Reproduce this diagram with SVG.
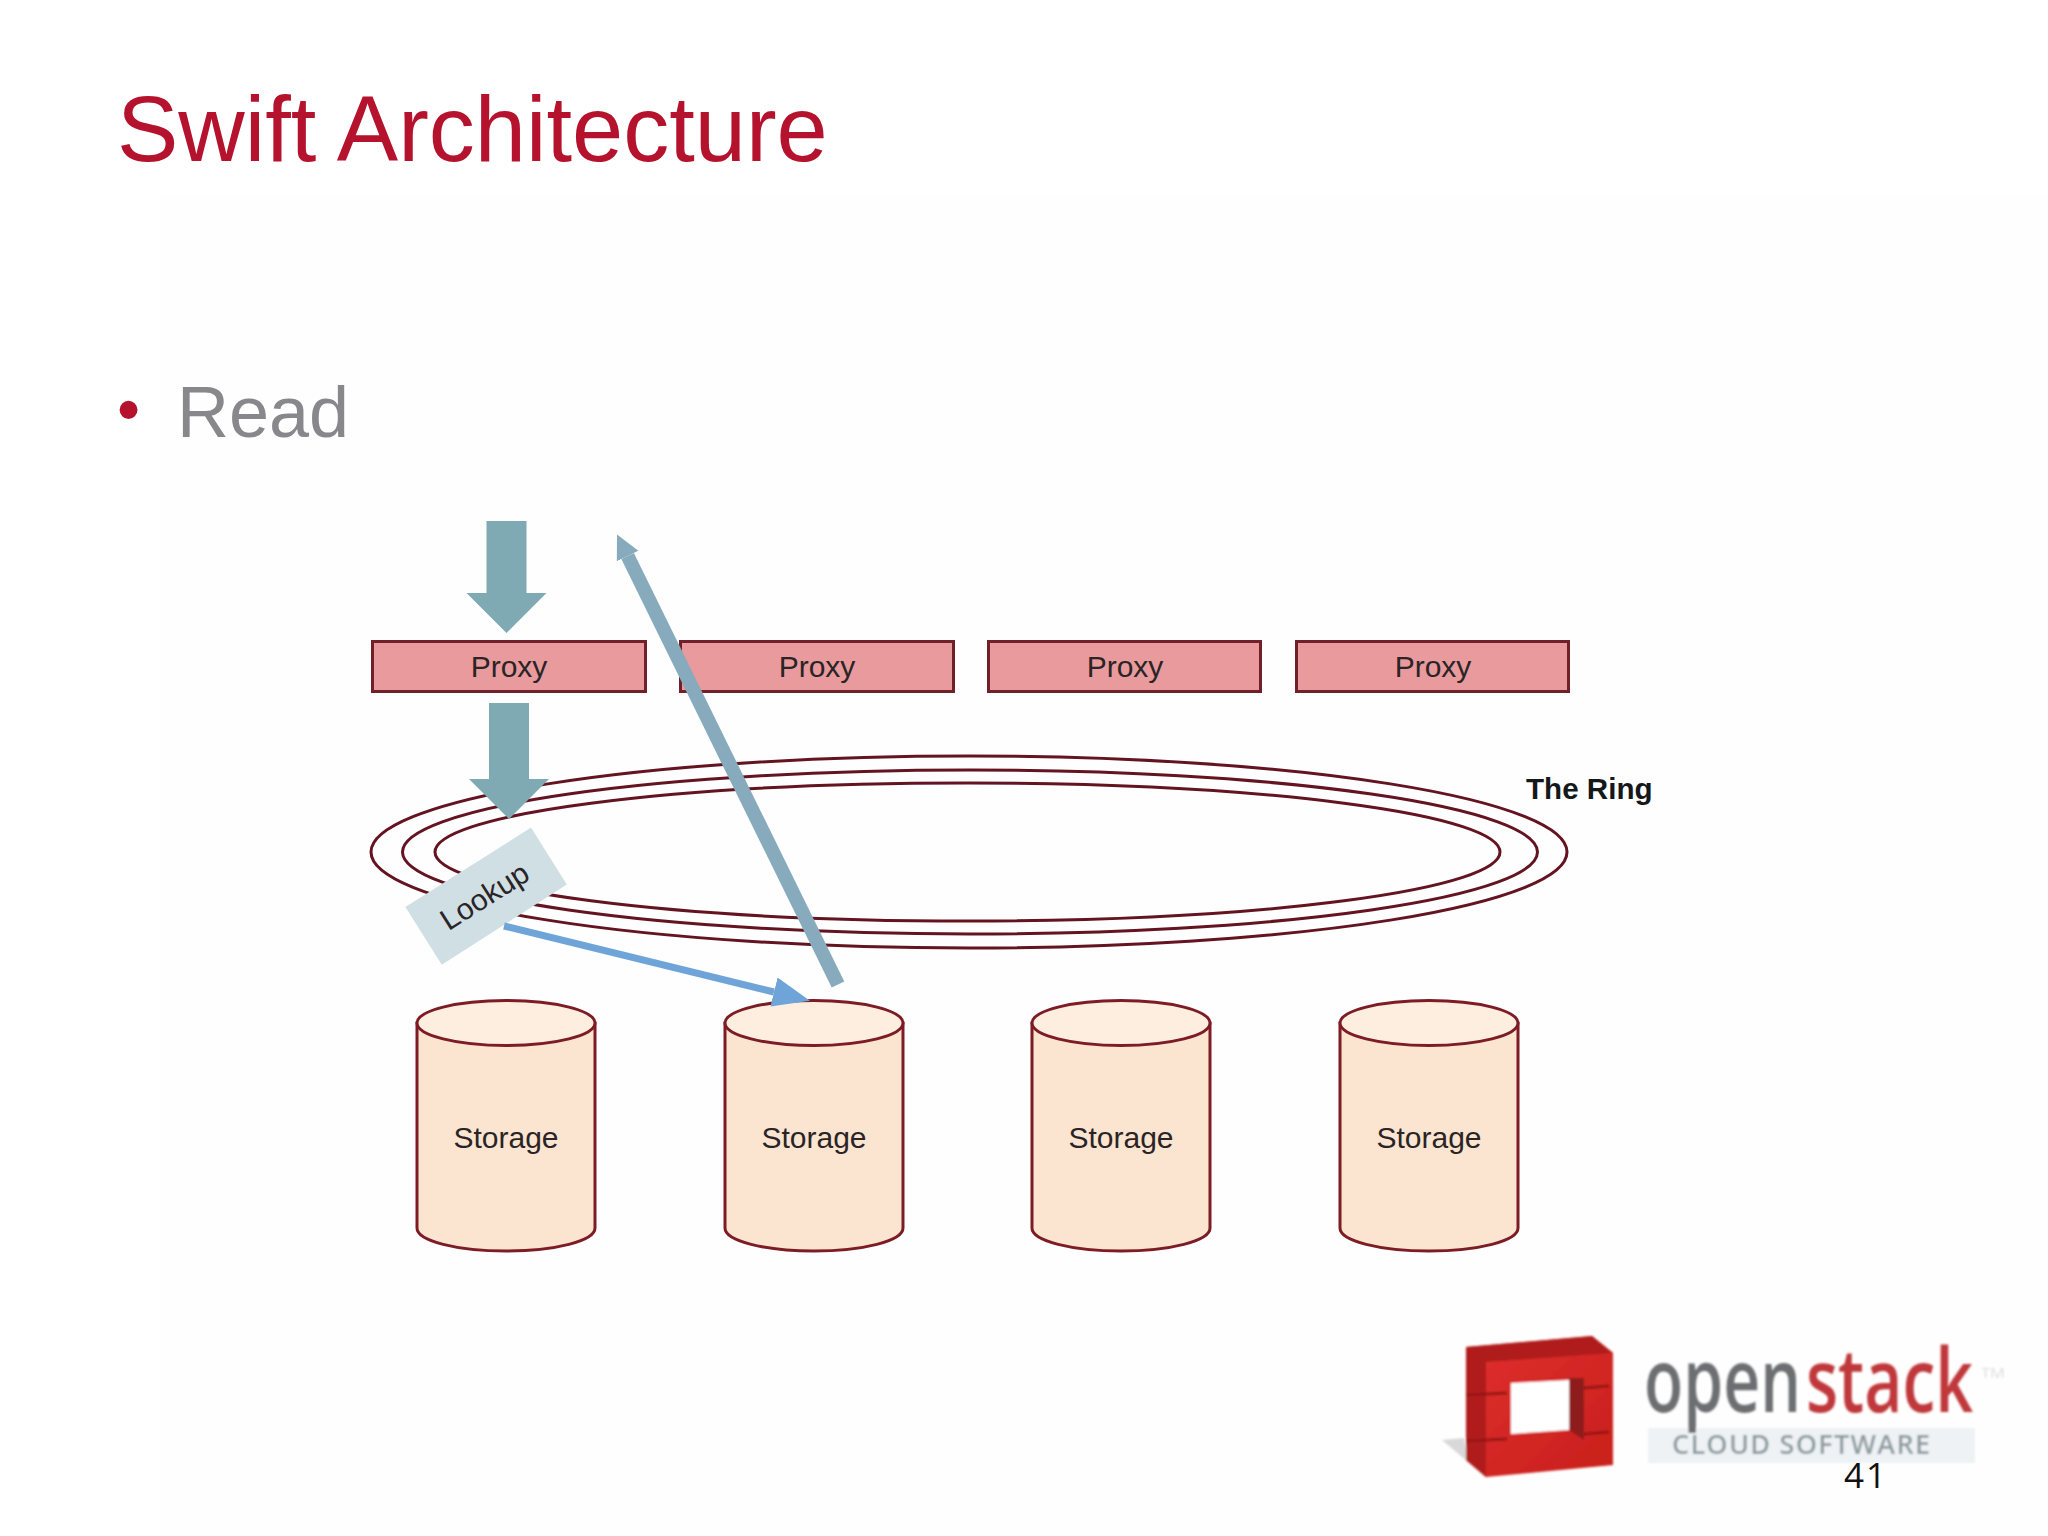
<svg xmlns="http://www.w3.org/2000/svg" width="2048" height="1536" viewBox="0 0 2048 1536">
<style>
text{font-family:"Liberation Sans",Arial,sans-serif}
.proxy{fill:#e89a9c;stroke:#702028;stroke-width:3}
.lbl{font-size:30px;fill:#2a2426;text-anchor:middle}
.cyl{fill:#fbe5d0;stroke:#7e1c26;stroke-width:3}
.cyltop{fill:#fdeee0;stroke:#7e1c26;stroke-width:3}
.ring{fill:none;stroke:#641420;stroke-width:3}
.logo{font-family:"Open Sans","Liberation Sans",sans-serif}
</style>
<defs>
<marker id="block" markerUnits="userSpaceOnUse" markerWidth="42" markerHeight="84" viewBox="0 -41 42 82" refX="0" refY="0" orient="auto"><path d="M0,-40 L40,0 L0,40 Z" fill="#7fa9b3"/></marker>
<marker id="ret" markerUnits="userSpaceOnUse" markerWidth="26" markerHeight="30" viewBox="0 -15 26 30" refX="0" refY="0" orient="auto"><path d="M0,-12 L24,0 L0,12 Z" fill="#87abbd"/></marker>
<marker id="look" markerUnits="userSpaceOnUse" markerWidth="40" markerHeight="32" viewBox="0 -16 40 32" refX="0" refY="0" orient="auto"><path d="M0,-15 L37,0 L0,15 Z" fill="#6fa4d8"/></marker>
<linearGradient id="cube" x1="0" y1="0" x2="1" y2="1"><stop offset="0" stop-color="#e0302e"/><stop offset="1" stop-color="#c81f1c"/></linearGradient>
<filter id="soft" x="-5%" y="-5%" width="110%" height="110%"><feGaussianBlur stdDeviation="0.8"/></filter>
</defs>
<rect width="2048" height="1536" fill="#ffffff"/>
<rect x="160" y="195" width="1888" height="1341" fill="#fefefe"/>
<text x="117" y="161" font-size="92" fill="#b5122e">Swift Architecture</text>
<text x="117" y="432" font-size="66" fill="#b5122e">•</text>
<text x="177" y="437" font-size="72" fill="#88888c">Read</text>

<g id="ring"><ellipse class="ring" cx="969" cy="852" rx="598" ry="96"/><ellipse class="ring" cx="970" cy="852" rx="567.5" ry="82"/><ellipse class="ring" cx="967.5" cy="852" rx="532.5" ry="69"/></g>
<text id="ring-label" x="1526" y="799" font-size="29.6" font-weight="bold" fill="#15181a">The Ring</text>

<g id="proxy-1"><rect class="proxy" x="372.5" y="641.5" width="273" height="50"/><text class="lbl" x="509" y="677">Proxy</text></g>
<g id="proxy-2"><rect class="proxy" x="680.5" y="641.5" width="273" height="50"/><text class="lbl" x="817" y="677">Proxy</text></g>
<g id="proxy-3"><rect class="proxy" x="988.5" y="641.5" width="272" height="50"/><text class="lbl" x="1125" y="677">Proxy</text></g>
<g id="proxy-4"><rect class="proxy" x="1296.5" y="641.5" width="272" height="50"/><text class="lbl" x="1433" y="677">Proxy</text></g>

<g id="lookup"><polygon points="531,827.6 566.8,884.5 441.8,964.8 405.4,907" fill="#cfdfe3"/><text class="lbl" transform="translate(490,905) rotate(-32.3)" x="0" y="0">Lookup</text></g>

<g id="storage-1"><path class="cyl" d="M417,1023 V1228 C417,1241 457,1251 506,1251 S595,1241 595,1228 V1023 Z"/><ellipse class="cyltop" cx="506" cy="1023" rx="89" ry="22.5"/><text class="lbl" x="506" y="1148">Storage</text></g>
<g id="storage-2"><path class="cyl" d="M725,1023 V1228 C725,1241 765,1251 814,1251 S903,1241 903,1228 V1023 Z"/><ellipse class="cyltop" cx="814" cy="1023" rx="89" ry="22.5"/><text class="lbl" x="814" y="1148">Storage</text></g>
<g id="storage-3"><path class="cyl" d="M1032,1023 V1228 C1032,1241 1072,1251 1121,1251 S1210,1241 1210,1228 V1023 Z"/><ellipse class="cyltop" cx="1121" cy="1023" rx="89" ry="22.5"/><text class="lbl" x="1121" y="1148">Storage</text></g>
<g id="storage-4"><path class="cyl" d="M1340,1023 V1228 C1340,1241 1380,1251 1429,1251 S1518,1241 1518,1228 V1023 Z"/><ellipse class="cyltop" cx="1429" cy="1023" rx="89" ry="22.5"/><text class="lbl" x="1429" y="1148">Storage</text></g>

<g id="connectors" fill="none">
<line x1="506.5" y1="521" x2="506.5" y2="593" stroke="#7fa9b3" stroke-width="40" marker-end="url(#block)"/>
<line x1="509" y1="703" x2="509" y2="779" stroke="#7fa9b3" stroke-width="40" marker-end="url(#block)"/>
<line x1="838" y1="984.5" x2="627.6" y2="556" stroke="#87abbd" stroke-width="14" marker-end="url(#ret)"/>
<line x1="504" y1="926" x2="774" y2="992" stroke="#6fa4d8" stroke-width="7" marker-end="url(#look)"/>
</g>

<g id="logo" filter="url(#soft)">
<polygon points="1442,1440 1464,1438 1468,1462" fill="#d8d8d8"/>
<polygon points="1466,1347 1592,1336 1613,1353 1613,1465 1486,1477 1466,1460" fill="url(#cube)"/>
<polygon points="1466,1347 1592,1336 1613,1353 1486,1362 1486,1477 1466,1460" fill="#b01c1c"/>
<polygon points="1511,1383 1569,1380 1569,1430 1511,1434" fill="#ffffff"/>
<polygon points="1569,1378 1584,1378 1584,1440 1569,1430" fill="#8f1a1a"/>
<path d="M1466,1395 L1507,1393 M1466,1441 L1507,1439 M1584,1388 L1609,1386 M1584,1434 L1609,1432" stroke="#9a1616" stroke-width="3" fill="none"/>
<rect x="1648" y="1428" width="327" height="35" fill="#eef2f4"/>
<text class="logo" x="1644" y="1412" font-size="88" font-weight="600" fill="#6d6e71" textLength="157" lengthAdjust="spacingAndGlyphs">open</text>
<text class="logo" x="1806" y="1412" font-size="88" font-weight="600" fill="#c0393b" textLength="167" lengthAdjust="spacingAndGlyphs">stack</text>
<text class="logo" x="1981" y="1378" font-size="15" fill="#dddddd" textLength="24" lengthAdjust="spacingAndGlyphs">TM</text>
<text class="logo" x="1672" y="1454" font-size="27" font-weight="600" fill="#8c9aa0" textLength="258" lengthAdjust="spacing">CLOUD SOFTWARE</text>
</g>
<text x="1844" y="1488" font-size="35" fill="#111111" style="font-family:'Open Sans','Liberation Sans',sans-serif" letter-spacing="2">41</text>
</svg>
